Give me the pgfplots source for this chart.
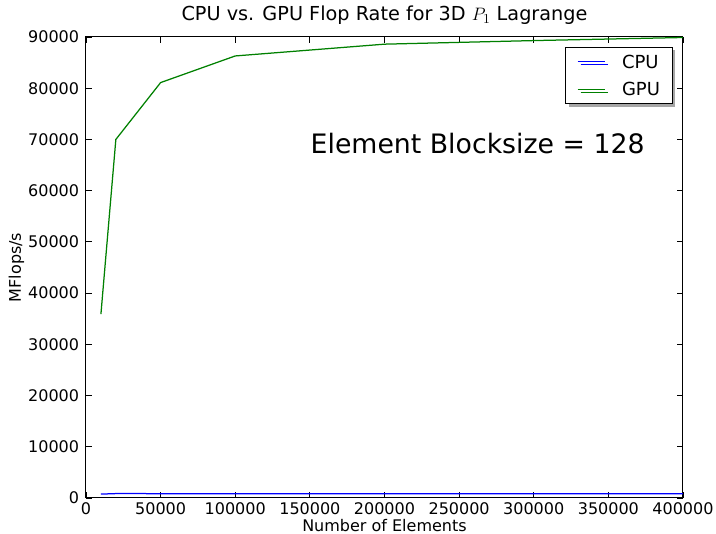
\documentclass[border=0pt]{standalone}
\usepackage{fontspec}
\setmainfont{DejaVu Sans}
\usepackage{pgfplots}
\pgfplotsset{compat=1.18}
\usetikzlibrary{shadows}
\definecolor{mplblue}{rgb}{0,0,1}
\definecolor{mplgreen}{rgb}{0,0.5,0}
\begin{document}
\begin{tikzpicture}
\begin{axis}[
  scale only axis, width=477.6pt, height=368.8pt,
  xmin=0, xmax=400000, ymin=0, ymax=90000,
  xtick={0,50000,100000,150000,200000,250000,300000,350000,400000},
  ytick={0,10000,20000,30000,40000,50000,60000,70000,80000,90000},
  scaled x ticks=false, scaled y ticks=false,
  /pgf/number format/fixed,
  /pgf/number format/1000 sep={},
  /pgf/number format/assume math mode=true,
  tick label style={font=\fontsize{12.8}{15}\selectfont},
  yticklabel style={xshift=-2pt},
  tick align=inside, xtick pos=both, ytick pos=both,
  major tick length=4.8pt,
  tick style={line width=0.7pt, black},
  axis line style={line width=0.8pt},
  title={CPU vs. GPU Flop Rate for 3D $P_1$ Lagrange},
  title style={font=\fontsize{15.4}{18}\selectfont, at={(axis description cs:0.5,1.019)}, anchor=base},
  xlabel={Number of Elements},
  xlabel style={font=\fontsize{12.8}{15}\selectfont, at={(axis description cs:0.5,-0.0716)}, anchor=base},
  ylabel={MFlops/s},
  ylabel style={font=\fontsize{12.8}{15}\selectfont, at={(axis description cs:-0.1089,0.5)}, anchor=base, rotate=0},
  legend style={at={(axis description cs:1,1)}, anchor=north east, xshift=-8pt, yshift=-8pt,
    draw=black, fill=white, line width=0.8pt,
    font=\fontsize{14.4}{17}\selectfont,
    drop shadow={shadow xshift=2.4pt, shadow yshift=-2.4pt, fill=gray!70, opacity=1},
    inner xsep=9pt, inner ysep=5.25pt, row sep=9.5pt, column sep=12pt,
    nodes={inner sep=1pt, text height=10.5pt, text depth=0pt}},
  legend cell align=left,
  legend image code/.code={\draw[#1] (0pt,0pt) -- (22pt,0pt);},
]
\addplot[mplblue, line width=1pt] coordinates {
  (10000,760) (20000,860) (50000,850) (100000,840) (200000,830) (300000,830) (400000,830)
};
\addlegendentry{CPU}
\addplot[mplgreen, line width=1pt] coordinates {
  (10000,35900) (20000,70000) (50000,81100) (100000,86300) (200000,88600) (300000,89300) (400000,89900)
};
\addlegendentry{GPU}
\node[anchor=base, font=\fontsize{21.4}{25}\selectfont] at (rel axis cs:0.656,0.748) {Element Blocksize = 128};
\end{axis}
\pgfresetboundingbox
\path (-68.8pt,-28.8pt) rectangle (504pt,398.4pt);
\end{tikzpicture}
\end{document}
